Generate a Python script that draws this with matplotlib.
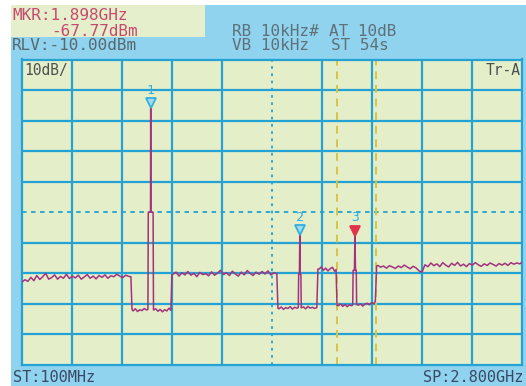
import matplotlib
matplotlib.use('Agg')
import matplotlib.pyplot as plt
import numpy as np
from matplotlib.patches import Rectangle
from matplotlib.transforms import offset_copy

# ---------------- data (MHz, dBm) ----------------
start_mhz, stop_mhz = 100, 2800
ref_dbm, bottom_dbm = -10, -110

seg_a_mhz = [100,116,132,148,164,180,196,212,228,244,260,276,292,308,324,340,356,372,388,404,
             420,436,452,468,484,500,516,532,548,564,580,596,612,628,644,660,676,688]
seg_a_dbm = [-82.8,-82.1,-82.6,-81.3,-82.4,-80.7,-82.0,-81.1,-80.0,-81.9,-81.4,-80.5,-81.9,-81.0,-81.6,
             -80.3,-81.7,-80.9,-81.5,-80.6,-81.9,-81.2,-80.4,-81.6,-80.9,-81.8,-80.7,-81.3,-80.5,-81.6,
             -80.8,-81.1,-80.3,-80.9,-81.4,-80.6,-81.0,-81.1]

seg_b_mhz = [694,700,712,724,736,748,760,772,780,782,794,795,796,808,810,822,834,846,858,870,882,894,904,910]
seg_b_dbm = [-91.8,-92.3,-91.6,-92.5,-91.9,-92.2,-91.5,-92.0,-91.8,-60.0,-60.0,-25.9,-60.0,-60.0,-92.0,
             -91.6,-92.4,-91.8,-92.6,-91.9,-92.3,-91.4,-92.1,-80.6]

seg_c_mhz = [916,932,948,964,980,996,1012,1028,1044,1060,1076,1092,1108,1124,1140,1156,1172,1188,
             1204,1220,1236,1252,1268,1284,1300,1316,1332,1348,1364,1380,1396,1412,1428,1444,1460,1476]
seg_c_dbm = [-80.2,-79.6,-80.9,-79.8,-80.5,-79.4,-80.6,-80.0,-81.1,-79.7,-80.4,-80.1,-80.8,-79.5,-80.6,
             -79.9,-79.0,-80.4,-79.8,-80.7,-79.3,-80.2,-80.9,-79.6,-80.5,-79.1,-80.0,-80.7,-79.6,-80.3,
             -79.4,-80.2,-79.2,-80.5,-79.8,-80.1]

seg_d_mhz = [1482,1488,1500,1512,1524,1536,1548,1560,1572,1584,1592,1594,1598,1600,1602,1606,1608,
             1620,1632,1644,1656,1668,1680,1692,1698]
seg_d_dbm = [-91.4,-91.6,-91.0,-91.8,-91.2,-91.5,-90.9,-91.7,-91.1,-91.4,-91.2,-80.3,-80.3,-67.5,-80.3,
             -80.3,-91.3,-91.0,-91.6,-90.8,-91.4,-91.1,-91.5,-91.2,-78.6]

seg_e_mhz = [1704,1716,1728,1740,1752,1764,1776,1788,1796]
seg_e_dbm = [-78.6,-77.9,-79.0,-78.3,-79.2,-78.5,-78.0,-79.3,-78.8]

seg_f_mhz = [1801,1808,1820,1832,1844,1856,1868,1880,1886,1888,1895,1898,1901,1905,1907,1916,1928,
             1940,1952,1964,1976,1988,2000,2008,2015]
seg_f_dbm = [-90.5,-90.6,-90.0,-90.8,-90.2,-90.9,-90.3,-90.6,-90.3,-79.0,-79.0,-67.77,-79.0,-79.0,-90.2,
             -90.4,-90.0,-90.7,-90.1,-89.8,-90.3,-89.6,-89.9,-89.2,-77.6]

seg_g_mhz = [2022,2036,2052,2068,2084,2100,2116,2132,2148,2164,2180,2196,2212,2228,2244,2260,2276,2292,
             2308,2324,2340,2356,2372,2388,2404,2420,2436,2452,2468,2484,2500,2516,2532,2548,2564,2580,
             2596,2612,2628,2644,2660,2676,2692,2708,2724,2740,2756,2772,2788,2800]
seg_g_dbm = [-77.4,-78.0,-77.6,-78.3,-77.5,-77.9,-78.4,-77.6,-78.1,-77.3,-77.9,-78.5,-77.7,-78.2,-79.2,
             -79.6,-77.2,-77.8,-76.6,-77.5,-76.9,-77.8,-76.5,-77.3,-77.9,-76.7,-77.4,-76.4,-77.6,-77.0,
             -77.8,-76.8,-77.3,-76.5,-77.2,-77.7,-76.9,-77.4,-76.6,-77.1,-77.6,-76.8,-77.3,-76.7,-77.4,
             -76.5,-77.0,-76.6,-76.9,-76.4]

marker_mhz = [795, 1600, 1898]
marker_dbm = [-25.9, -67.5, -67.77]
marker_labels = ['1', '2', '3']
band_edges_mhz = [1801, 2012]

trace_mhz = seg_a_mhz + seg_b_mhz + seg_c_mhz + seg_d_mhz + seg_e_mhz + seg_f_mhz + seg_g_mhz
trace_dbm = seg_a_dbm + seg_b_dbm + seg_c_dbm + seg_d_dbm + seg_e_dbm + seg_f_dbm + seg_g_dbm

# ---------------- figure ----------------
W, H = 526, 386
fig = plt.figure(figsize=(W / 100, H / 100), dpi=100, facecolor='white')

SCREEN = '#8fd3ee'
PANEL = '#e6efcb'
GRID = '#24a2d3'
TRACE = '#a2337f'
MONO = 'DejaVu Sans Mono'

fig.patches.append(Rectangle((11 / W, 0), 1 - 11 / W, 1 - 5 / H, transform=fig.transFigure,
                             facecolor=SCREEN, edgecolor='none', zorder=-10))
fig.patches.append(Rectangle((11 / W, 1 - 37 / H), (205 - 11) / W, 32 / H, transform=fig.transFigure,
                             facecolor=PANEL, edgecolor='none', zorder=-9))

ax = fig.add_axes([22 / W, 21 / H, 500 / W, (365 - 59.5) / H])
ax.set_zorder(5)
ax.set_facecolor('#e4eec8')
ax.set_xlim(start_mhz, stop_mhz)
ax.set_ylim(bottom_dbm, ref_dbm)
ax.set_xticks([])
ax.set_yticks([])
for s in ax.spines.values():
    s.set_color(GRID)
    s.set_linewidth(1.6)

xdiv = np.linspace(start_mhz, stop_mhz, 11)
ydiv = np.linspace(bottom_dbm, ref_dbm, 11)
for i, xv in enumerate(xdiv[1:-1], start=1):
    if i == 5:
        ax.axvline(xv, color=GRID, lw=1.3, ls=(0, (1.5, 2.5)), zorder=1)
    else:
        ax.axvline(xv, color=GRID, lw=1.6, zorder=1)
for i, yv in enumerate(ydiv[1:-1], start=1):
    if i == 5:
        ax.axhline(yv, color=GRID, lw=1.3, ls=(0, (2.5, 2.5)), zorder=1)
    else:
        ax.axhline(yv, color=GRID, lw=1.6, zorder=1)

for xv in band_edges_mhz:
    ax.axvline(xv, color='#d6c447', lw=1.4, ls=(0, (4, 3)), zorder=2)

ax.plot(trace_mhz, trace_dbm, color=TRACE, lw=1.1, zorder=3)

tri_tr = offset_copy(ax.transData, fig=fig, x=0, y=5, units='dots')
lab_tr = offset_copy(ax.transData, fig=fig, x=0, y=18, units='dots')
for f, l, lab in zip(marker_mhz, marker_dbm, marker_labels):
    active = lab == '3'
    ax.plot([f], [l], marker='v', ms=6.5, mfc='#e2334d' if active else '#9edcf2',
            mec='#e2334d' if active else '#33aee0', mew=1.3, transform=tri_tr, zorder=4, clip_on=False)
    ax.text(f, l, lab, transform=lab_tr, ha='center', va='center', color='#33aee0',
            fontsize=9.5, family=MONO, zorder=4)

ax.text(0.005, 0.965, '10dB/', transform=ax.transAxes, ha='left', va='center',
        family=MONO, fontsize=10.5, color='#4a5250')
ax.text(0.997, 0.965, 'Tr-A', transform=ax.transAxes, ha='right', va='center',
        family=MONO, fontsize=10.5, color='#4a5250')


def ftext(x, y, s, color, ha='left', size=11.5):
    fig.text(x / W, 1 - y / H, s, ha=ha, va='center', family=MONO, fontsize=size, color=color)


ftext(12, 15, 'MKR:1.898GHz', '#c64a6e')
ftext(138, 31, '-67.77dBm', '#c64a6e', ha='right')
ftext(12, 46, 'RLV:-10.00dBm', '#58686e')
ftext(232, 31, 'RB 10kHz#', '#5f7078')
ftext(329, 31, 'AT 10dB', '#5f7078')
ftext(232, 46, 'VB 10kHz', '#5f7078')
ftext(331, 46, 'ST 54s', '#5f7078')
ftext(13, 377, 'ST:100MHz', '#3a4866', size=11)
ftext(523, 377, 'SP:2.800GHz', '#3a4866', ha='right', size=11)

fig.savefig('out.png', dpi=100, facecolor=fig.get_facecolor())
